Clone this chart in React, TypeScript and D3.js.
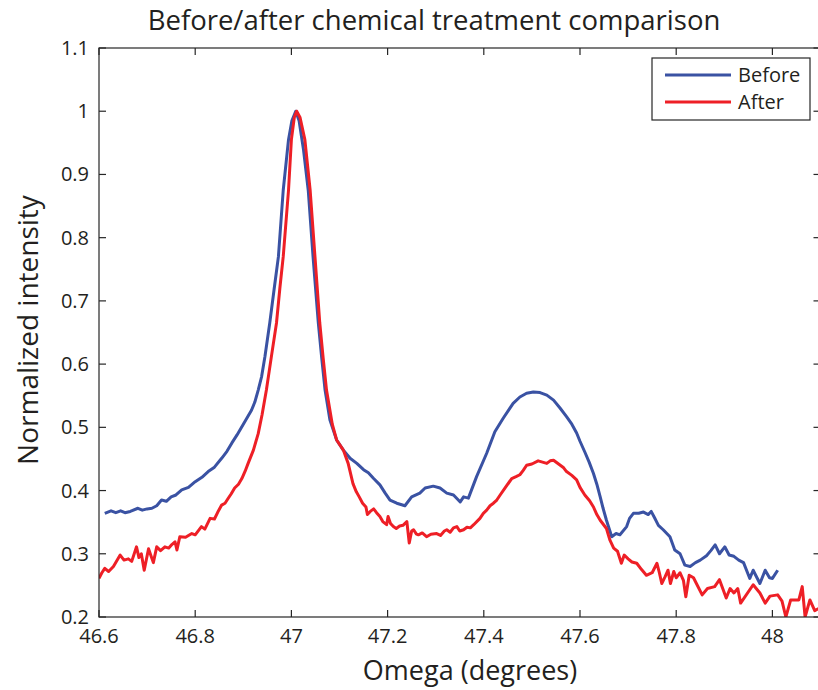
import React from "react";
import * as d3 from "d3";

const beforeX = [46.612,46.625,46.635,46.645,46.654,46.665,46.681,46.69,46.70,46.71,46.72,46.73,46.74,46.75,46.76,46.772,46.786,46.80,46.814,46.827,46.84,46.855,46.866,46.876,46.887,46.897,46.907,46.917,46.924,46.931,46.938,46.945,46.955,46.964,46.973,46.983,46.994,47.001,47.009,47.016,47.025,47.035,47.045,47.056,47.063,47.07,47.08,47.094,47.108,47.122,47.136,47.15,47.16,47.171,47.184,47.195,47.205,47.219,47.236,47.25,47.267,47.278,47.295,47.309,47.323,47.337,47.351,47.358,47.368,47.385,47.406,47.423,47.44,47.461,47.475,47.489,47.503,47.517,47.531,47.545,47.558,47.572,47.583,47.593,47.60,47.61,47.619,47.628,47.635,47.642,47.648,47.655,47.666,47.675,47.683,47.697,47.703,47.711,47.722,47.732,47.742,47.748,47.755,47.763,47.773,47.787,47.797,47.808,47.818,47.829,47.84,47.85,47.863,47.872,47.881,47.89,47.901,47.91,47.92,47.93,47.94,47.953,47.96,47.974,47.985,47.994,48.0,48.011];
const beforeY = [0.364,0.368,0.365,0.368,0.365,0.367,0.372,0.369,0.371,0.372,0.376,0.385,0.383,0.390,0.393,0.401,0.405,0.414,0.421,0.430,0.437,0.451,0.462,0.475,0.488,0.501,0.514,0.527,0.540,0.559,0.580,0.612,0.665,0.718,0.770,0.875,0.955,0.985,1.0,0.985,0.94,0.875,0.770,0.665,0.61,0.559,0.512,0.480,0.464,0.451,0.443,0.433,0.428,0.419,0.409,0.396,0.385,0.380,0.376,0.390,0.396,0.404,0.407,0.404,0.396,0.393,0.382,0.390,0.388,0.422,0.459,0.493,0.514,0.538,0.548,0.554,0.556,0.555,0.551,0.543,0.531,0.517,0.505,0.491,0.478,0.461,0.445,0.427,0.410,0.390,0.372,0.353,0.327,0.332,0.330,0.343,0.356,0.364,0.364,0.366,0.362,0.367,0.357,0.345,0.338,0.327,0.306,0.300,0.282,0.280,0.286,0.290,0.297,0.305,0.314,0.300,0.311,0.298,0.296,0.290,0.286,0.261,0.274,0.253,0.274,0.262,0.261,0.274];

const afterX = [46.60,46.606,46.612,46.62,46.63,46.644,46.652,46.661,46.668,46.678,46.683,46.688,46.694,46.703,46.713,46.72,46.728,46.737,46.745,46.752,46.758,46.762,46.768,46.78,46.793,46.80,46.813,46.82,46.831,46.84,46.847,46.855,46.862,46.868,46.875,46.882,46.89,46.897,46.904,46.91,46.921,46.931,46.939,46.948,46.959,46.969,46.976,46.983,46.994,47.0,47.006,47.011,47.018,47.028,47.039,47.049,47.059,47.066,47.073,47.085,47.094,47.108,47.118,47.128,47.135,47.141,47.148,47.155,47.158,47.164,47.171,47.177,47.184,47.19,47.198,47.201,47.206,47.212,47.218,47.225,47.232,47.24,47.245,47.25,47.254,47.26,47.264,47.272,47.281,47.29,47.302,47.31,47.318,47.323,47.33,47.337,47.344,47.35,47.358,47.365,47.372,47.379,47.392,47.399,47.406,47.413,47.42,47.427,47.434,47.445,47.458,47.467,47.475,47.482,47.489,47.5,47.513,47.522,47.531,47.538,47.545,47.552,47.559,47.566,47.572,47.583,47.593,47.60,47.61,47.62,47.628,47.635,47.642,47.655,47.662,47.67,47.678,47.686,47.692,47.70,47.708,47.718,47.728,47.738,47.75,47.76,47.765,47.77,47.777,47.783,47.788,47.795,47.80,47.808,47.815,47.82,47.827,47.836,47.842,47.854,47.865,47.88,47.89,47.904,47.912,47.92,47.928,47.934,47.96,47.974,47.985,47.995,48.011,48.02,48.028,48.038,48.055,48.062,48.068,48.078,48.088,48.1];
const afterY = [0.261,0.27,0.277,0.272,0.280,0.298,0.290,0.292,0.288,0.311,0.294,0.300,0.274,0.308,0.286,0.311,0.305,0.311,0.309,0.315,0.319,0.306,0.327,0.326,0.332,0.330,0.343,0.339,0.356,0.355,0.366,0.377,0.380,0.387,0.395,0.404,0.410,0.419,0.431,0.443,0.464,0.490,0.520,0.559,0.615,0.665,0.72,0.770,0.875,0.955,0.99,1.0,0.99,0.955,0.875,0.770,0.665,0.61,0.559,0.505,0.480,0.464,0.443,0.411,0.398,0.390,0.380,0.374,0.362,0.367,0.371,0.365,0.359,0.351,0.346,0.359,0.348,0.343,0.340,0.344,0.345,0.351,0.317,0.336,0.338,0.331,0.330,0.333,0.327,0.331,0.332,0.329,0.336,0.338,0.334,0.341,0.343,0.336,0.338,0.342,0.341,0.346,0.356,0.364,0.369,0.376,0.380,0.385,0.393,0.405,0.419,0.422,0.425,0.432,0.440,0.442,0.447,0.445,0.443,0.447,0.448,0.444,0.440,0.436,0.430,0.424,0.417,0.405,0.393,0.384,0.374,0.362,0.353,0.340,0.322,0.309,0.304,0.285,0.298,0.292,0.287,0.285,0.275,0.266,0.270,0.285,0.270,0.253,0.264,0.274,0.253,0.272,0.262,0.270,0.258,0.232,0.266,0.262,0.253,0.235,0.245,0.248,0.259,0.230,0.245,0.238,0.245,0.222,0.251,0.238,0.222,0.233,0.235,0.225,0.200,0.227,0.227,0.248,0.200,0.227,0.21,0.215];

const xTicks = [46.6, 46.8, 47, 47.2, 47.4, 47.6, 47.8, 48];
const yTicks = [0.2, 0.3, 0.4, 0.5, 0.6, 0.7, 0.8, 0.9, 1, 1.1];
const seriesNames = ["Before", "After"];
const seriesColors = ["#3a52a3", "#ee1f26"];

const W = 818, H = 690;
const L = 99, R = 820.5, T = 48, B = 617;
const FONT = "'Open Sans', 'Noto Sans', sans-serif";
const TXT = "#231f20";

export default function App() {
  const x = d3.scaleLinear().domain([46.6, 48.1]).range([L, R]);
  const y = d3.scaleLinear().domain([0.2, 1.1]).range([B, T]);
  const line = d3.line<[number, number]>().x(d => x(d[0])).y(d => y(d[1]));
  const before = beforeX.map((v, i) => [v, beforeY[i]] as [number, number]);
  const after = afterX.map((v, i) => [v, afterY[i]] as [number, number]);
  const fmt = (v: number) => String(+v.toFixed(1));
  const tl = 7;
  return (
    <svg width={W} height={H} style={{ position: "absolute", left: 0, top: 0, background: "#fff" }} fontFamily={FONT}>
      <defs>
        <clipPath id="plotclip"><rect x={L} y={T} width={R - L} height={B - T} /></clipPath>
      </defs>
      <rect x={0} y={0} width={W} height={H} fill="#fff" />
      <g clipPath="url(#plotclip)" fill="none" strokeWidth={3} strokeLinejoin="round">
        <path d={line(before) || ""} stroke={seriesColors[0]} />
        <path d={line(after) || ""} stroke={seriesColors[1]} />
      </g>
      <g stroke="#262626" strokeWidth={1.2}>
        <rect x={L} y={T} width={R - L} height={B - T} fill="none" />
        {xTicks.map(t => (
          <g key={"xt" + t}>
            <line x1={x(t)} x2={x(t)} y1={B} y2={B - tl} />
            <line x1={x(t)} x2={x(t)} y1={T} y2={T + tl} />
          </g>
        ))}
        {yTicks.map(t => (
          <g key={"yt" + t}>
            <line x1={L} x2={L + tl} y1={y(t)} y2={y(t)} />
            <line x1={R} x2={R - tl} y1={y(t)} y2={y(t)} />
          </g>
        ))}
      </g>
      <g fill={TXT} fontSize={20}>
        {xTicks.map(t => (
          <text key={"xl" + t} x={x(t)} y={643} textAnchor="middle">{fmt(t)}</text>
        ))}
        {yTicks.map(t => (
          <text key={"yl" + t} x={89} y={y(t)} dy="0.35em" textAnchor="end">{fmt(t)}</text>
        ))}
      </g>
      <text x={434} y={30} textAnchor="middle" fontSize={27.5} fill={TXT}>Before/after chemical treatment comparison</text>
      <text x={470} y={680} textAnchor="middle" fontSize={27} fill={TXT}>Omega (degrees)</text>
      <text transform="translate(38,330) rotate(-90)" textAnchor="middle" fontSize={28} fill={TXT}>Normalized intensity</text>
      <g>
        <rect x={652} y={58} width={158} height={62} fill="#fff" stroke="#262626" strokeWidth={1.2} />
        {seriesNames.map((n, i) => (
          <g key={n}>
            <line x1={665} x2={731} y1={75 + i * 27} y2={75 + i * 27} stroke={seriesColors[i]} strokeWidth={3} />
            <text x={738} y={75 + i * 27} dy="0.35em" fontSize={20} fill={TXT}>{n}</text>
          </g>
        ))}
      </g>
    </svg>
  );
}
